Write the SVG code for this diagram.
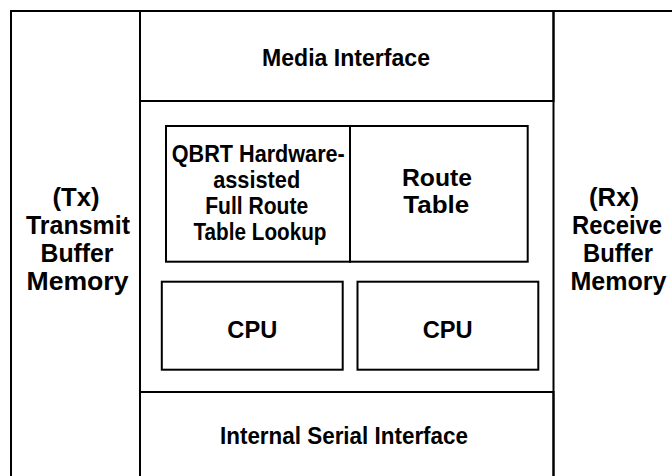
<svg xmlns="http://www.w3.org/2000/svg" width="672" height="476" viewBox="0 0 672 476">
<style>
.box{fill:none;stroke:#000;stroke-width:2}
.t{font-family:"Liberation Sans",Arial,sans-serif;font-weight:bold;font-size:23px;fill:#000;text-anchor:middle}
.big{font-size:25px}
</style>
<rect width="672" height="476" fill="#fff"/>
<g id="tx-buffer">
<rect class="box" x="11" y="11" width="129" height="480"/>
<text class="t big" x="76" y="206" textLength="47" lengthAdjust="spacingAndGlyphs">(Tx)</text>
<text class="t big" x="78" y="234" textLength="104" lengthAdjust="spacingAndGlyphs">Transmit</text>
<text class="t big" x="77" y="262" textLength="73" lengthAdjust="spacingAndGlyphs">Buffer</text>
<text class="t big" x="77.5" y="290" textLength="102" lengthAdjust="spacingAndGlyphs">Memory</text>
</g>
<g id="rx-buffer">
<rect class="box" x="553.5" y="11" width="140" height="480"/>
<text class="t big" x="614" y="206" textLength="50" lengthAdjust="spacingAndGlyphs">(Rx)</text>
<text class="t big" x="617" y="234" textLength="90" lengthAdjust="spacingAndGlyphs">Receive</text>
<text class="t big" x="618" y="262" textLength="70" lengthAdjust="spacingAndGlyphs">Buffer</text>
<text class="t big" x="618.5" y="290" textLength="96" lengthAdjust="spacingAndGlyphs">Memory</text>
</g>
<g id="media-interface">
<rect class="box" x="140" y="11" width="413.5" height="90"/>
<text class="t" x="346" y="66" textLength="168" lengthAdjust="spacingAndGlyphs">Media Interface</text>
</g>
<g id="internal-serial-interface">
<rect class="box" x="140" y="392" width="413.5" height="100"/>
<text class="t" x="344" y="444" textLength="248" lengthAdjust="spacingAndGlyphs">Internal Serial Interface</text>
</g>
<g id="qbrt">
<rect class="box" x="166" y="126" width="184" height="135.7"/>
<text class="t" x="258.3" y="162" textLength="173" lengthAdjust="spacingAndGlyphs">QBRT Hardware-</text>
<text class="t" x="256.7" y="188" textLength="87" lengthAdjust="spacingAndGlyphs">assisted</text>
<text class="t" x="256.7" y="214" textLength="103" lengthAdjust="spacingAndGlyphs">Full Route</text>
<text class="t" x="260" y="240" textLength="133" lengthAdjust="spacingAndGlyphs">Table Lookup</text>
</g>
<g id="route-table">
<rect class="box" x="350" y="126" width="177.7" height="135.7"/>
<text class="t" x="437" y="186" textLength="70" lengthAdjust="spacingAndGlyphs">Route</text>
<text class="t" x="436.3" y="212.7" textLength="66" lengthAdjust="spacingAndGlyphs">Table</text>
</g>
<g id="cpu-1">
<rect class="box" x="161.8" y="281.7" width="180.9" height="88"/>
<text class="t" x="252.3" y="338" textLength="50" lengthAdjust="spacingAndGlyphs">CPU</text>
</g>
<g id="cpu-2">
<rect class="box" x="357.5" y="281.7" width="180.8" height="88"/>
<text class="t" x="447.7" y="338" textLength="50" lengthAdjust="spacingAndGlyphs">CPU</text>
</g>
<g id="connectors"></g>
</svg>
